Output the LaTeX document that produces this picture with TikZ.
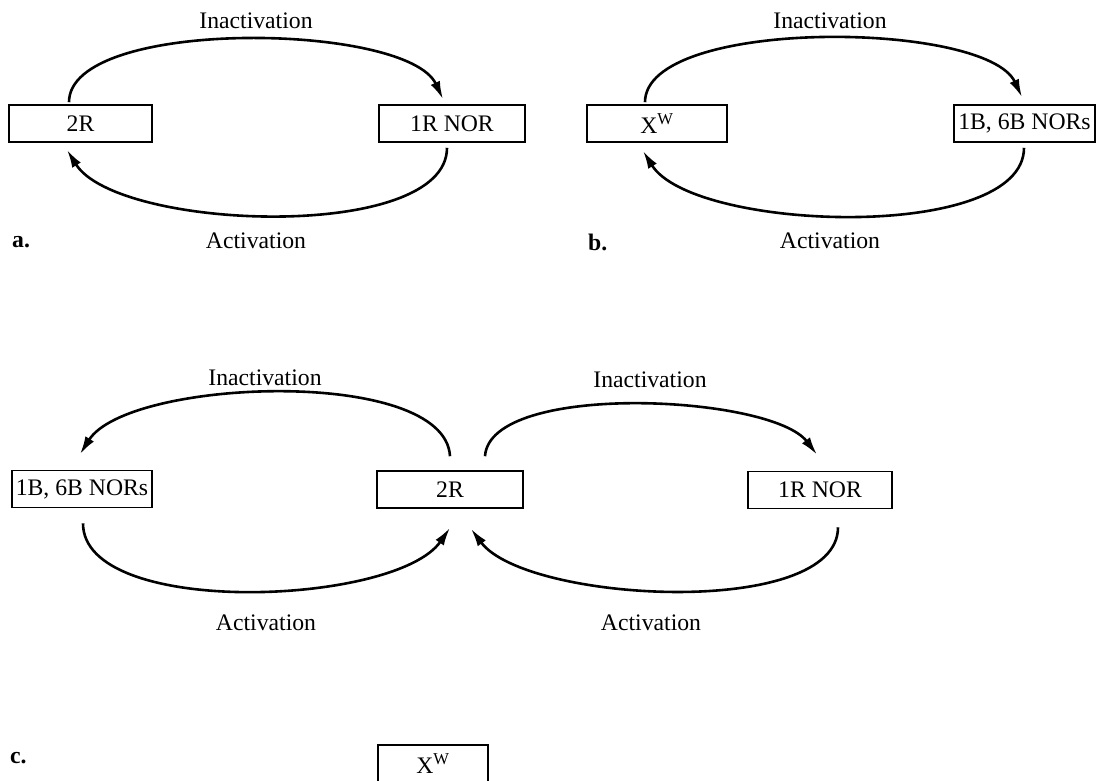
\documentclass[tikz,border=0pt]{standalone}
\usepackage{fontspec}
\setmainfont{Liberation Serif}
\usetikzlibrary{arrows.meta}
\tikzset{
  state box/.style={draw, line width=1.6pt, minimum width=143pt, minimum height=37pt,
    inner sep=0pt, font=\fontsize{23.7}{28}\selectfont},
  cycle arc/.style={line width=2.6pt, -{Latex[length=18pt,width=10pt]}},
  arc label/.style={font=\fontsize{23.7}{28}\selectfont},
  panel label/.style={font=\fontsize{23.7}{28}\selectfont\bfseries, anchor=west, inner sep=0pt},
}
\begin{document}
\begin{tikzpicture}[x=1pt,y=-1pt]
    \clip (0,0) rectangle (1096,781);
    % Panel a: the boxes
    \node[state box] (twoRa) at (80.5,123.5) {2R};
    \node[state box, minimum width=146pt] (oneRa) at (452,123.5) {1R NOR};
    % Panel a: labels
    \node[arc label] (inacta) at (256,21) {Inactivation};
    \node[arc label] (acta) at (256,241) {Activation};
    \node[panel label] (laba) at (12,242) {a.};
    % Panel a: the cycle
    \draw[cycle arc] ([xshift=-11.5pt,yshift=2pt]twoRa.north) .. controls +(0,-85) and +(-36,-77) .. ([xshift=-9pt,yshift=5pt]oneRa.north);
    \draw[cycle arc] ([xshift=-5pt,yshift=-5pt]oneRa.south) .. controls +(0,95) and +(50,81) .. ([xshift=-13.5pt,yshift=-7pt]twoRa.south);
    % Panel b: the boxes
    \node[state box, minimum width=140pt] (Xwb) at (657,123.5) {X\textsuperscript{W}};
    \node[state box, minimum width=141pt] (oneBb) at (1024.5,123.5) {1B, 6B NORs};
    % Panel b: labels
    \node[arc label] (inactb) at (830,21) {Inactivation};
    \node[arc label] (actb) at (830,241) {Activation};
    \node[panel label] (labb) at (588,242) {b.};
    % Panel b: the cycle
    \draw[cycle arc] ([xshift=-12pt,yshift=2pt]Xwb.north) .. controls +(0,-85) and +(-36,-77) .. ([xshift=-2.5pt,yshift=7pt]oneBb.north);
    \draw[cycle arc] ([xshift=-0.5pt,yshift=-5pt]oneBb.south) .. controls +(0,95) and +(50,81) .. ([xshift=-14pt,yshift=-8pt]Xwb.south);
    % Panel c: the boxes
    \node[state box, minimum width=140pt] (oneBc) at (82,489) {1B, 6B NORs};
    \node[state box, minimum width=146pt] (twoRc) at (450,489.5) {2R};
    \node[state box, minimum width=144pt] (oneRc) at (820,490) {1R NOR};
    \node[state box, minimum width=110pt] (Xwc) at (433,763.5) {X\textsuperscript{W}};
    % Panel c: labels
    \node[arc label] (inactcl) at (265,378) {Inactivation};
    \node[arc label] (inactcr) at (650,380) {Inactivation};
    \node[arc label] (actcl) at (266,623) {Activation};
    \node[arc label] (actcr) at (651,623) {Activation};
    \node[panel label] (labc) at (10,758) {c.};
    % Panel c: the two cycles round 2R
    \draw[cycle arc] ([yshift=14pt]twoRc.north) .. controls +(-5,-90) and +(48,-76) .. ([xshift=-2pt,yshift=15.5pt]oneBc.north);
    \draw[cycle arc] ([xshift=35pt,yshift=14pt]twoRc.north) .. controls +(5,-75) and +(-46,-60) .. ([xshift=-3pt,yshift=16pt]oneRc.north);
    \draw[cycle arc] ([xshift=1pt,yshift=-15pt]oneBc.south) .. controls +(0,95) and +(-54,78) .. ([yshift=-19pt]twoRc.south);
    \draw[cycle arc] ([xshift=18pt,yshift=-18pt]oneRc.south) .. controls +(0,92) and +(55,74) .. ([xshift=21pt,yshift=-20pt]twoRc.south);
\end{tikzpicture}
\end{document}
